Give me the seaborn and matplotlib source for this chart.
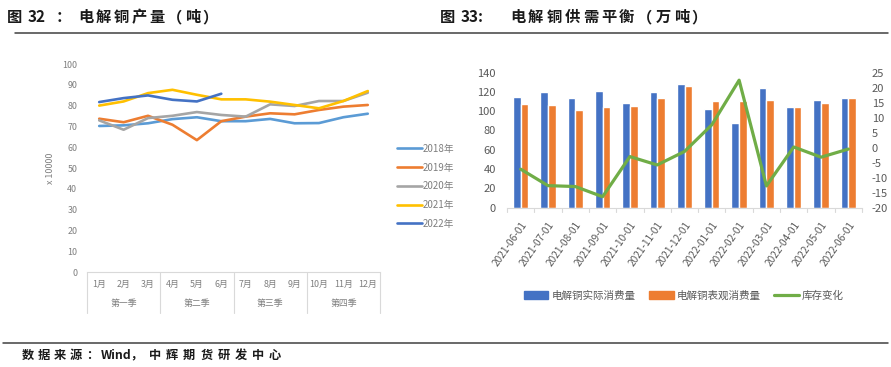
import numpy as np
import pandas as pd
import matplotlib
matplotlib.use("Agg")
import matplotlib.pyplot as plt
from matplotlib.lines import Line2D
from matplotlib.patches import Patch
import matplotlib.transforms as mtransforms
import seaborn as sns

# ---------------- data ----------------
months = ["1月", "2月", "3月", "4月", "5月", "6月", "7月", "8月", "9月", "10月", "11月", "12月"]
quarters = ["第一季", "第二季", "第三季", "第四季"]
years = ["2018年", "2019年", "2020年", "2021年", "2022年"]
prod_2018 = [70.2, 70.5, 71.5, 73.5, 74.4, 72.5, 72.5, 73.6, 71.5, 71.6, 74.4, 76.1]
prod_2019 = [73.7, 72.0, 75.1, 70.8, 63.4, 72.5, 74.7, 76.3, 75.8, 77.9, 79.5, 80.3]
prod_2020 = [72.9, 68.4, 74.0, 75.1, 76.9, 75.5, 74.7, 80.6, 79.8, 82.2, 82.2, 86.2]
prod_2021 = [80.0, 82.0, 86.0, 87.6, 85.2, 83.0, 83.0, 81.9, 80.3, 78.7, 82.2, 87.0]
prod_2022 = [81.7, 83.6, 84.9, 82.8, 82.0, 85.7]

dates = ["2021-06-01", "2021-07-01", "2021-08-01", "2021-09-01", "2021-10-01", "2021-11-01",
         "2021-12-01", "2022-01-01", "2022-02-01", "2022-03-01", "2022-04-01", "2022-05-01",
         "2022-06-01"]
actual_cons = [115.2, 119.8, 114.2, 120.5, 108.6, 119.8, 128.5, 102.0, 87.4, 124.6, 104.0, 112.0, 114.2]
apparent_cons = [107.6, 106.6, 101.3, 104.5, 105.2, 114.2, 126.7, 110.5, 110.1, 111.4, 104.0, 108.8, 113.5]
stock_change = [-7.2, -12.7, -13.0, -16.4, -3.0, -5.8, -1.3, 7.6, 22.5, -12.8, 0.2, -3.2, -0.5]
bar_names = ["电解铜实际消费量", "电解铜表观消费量"]
line_name = "库存变化"

# ---------------- style ----------------
sns.set_style("white")
plt.rcParams["font.family"] = ["Noto Sans CJK SC", "DejaVu Sans"]
plt.rcParams["axes.unicode_minus"] = False

W, H = 891, 367
fig = plt.figure(figsize=(W / 100, H / 100), dpi=100)
renderer = fig.canvas.get_renderer()


def fx(px):
    return px / W


def fy(py):
    return 1 - py / H


def fitted_text(x0, x1, y_px, s, size, **kw):
    """Draw string char by char, spread so that it spans x0..x1 pixels."""
    texts = [fig.text(fx(x0), fy(y_px), ch, fontsize=size, va="center", ha="left", **kw)
             for ch in s]
    widths = [t.get_window_extent(renderer=renderer).width for t in texts]
    gap = ((x1 - x0) - sum(widths)) / max(len(s) - 1, 1)
    x = x0
    for t, w in zip(texts, widths):
        t.set_x(fx(x))
        x += w + gap


title_kw = dict(fontweight="bold", color="#1a1a1a")
grey_txt = "#7f7f7f"
dark_txt = "#595959"

# ---------------- header / footer ----------------
fig.text(fx(7), fy(17), "图", fontsize=11, va="center", ha="left", **title_kw)
fig.text(fx(28), fy(17), "32", fontsize=11, va="center", ha="left", **title_kw)
fig.text(fx(56), fy(17), "：", fontsize=11, va="center", ha="left", **title_kw)
fitted_text(78, 218, 17, "电解铜产量（吨）", 11, **title_kw)

fig.text(fx(440), fy(17), "图", fontsize=11, va="center", ha="left", **title_kw)
fig.text(fx(461), fy(17), "33:", fontsize=11, va="center", ha="left", **title_kw)
fitted_text(510, 707, 17, "电解铜供需平衡（万吨）", 11, **title_kw)

fig.add_artist(Line2D([fx(15), fx(888)], [fy(33), fy(33)], color="#404040", lw=1.1))
fig.add_artist(Line2D([fx(3), fx(888)], [fy(343), fy(343)], color="#404040", lw=1.1))
fitted_text(22, 98, 355, "数据来源：", 8.8, **title_kw)
fig.text(fx(101), fy(355), "Wind，", fontsize=8.8, va="center", ha="left", **title_kw)
fitted_text(149, 281, 355, "中辉期货研发中心", 8.8, **title_kw)

# ---------------- left chart ----------------
axL = fig.add_axes([fx(87), fy(272), fx(380) - fx(87), fy(64) - fy(272)])
rows = []
for name, vals in zip(years, [prod_2018, prod_2019, prod_2020, prod_2021, prod_2022]):
    for i, v in enumerate(vals):
        rows.append({"x": i, "val": v, "year": name})
dfL = pd.DataFrame(rows)
palL = {"2018年": "#5B9BD5", "2019年": "#ED7D31", "2020年": "#A5A5A5",
        "2021年": "#FFC000", "2022年": "#4472C4"}
sns.lineplot(data=dfL, x="x", y="val", hue="year", palette=palL, hue_order=years,
             linewidth=1.9, ax=axL, legend=False, sort=False)
axL.set_xlim(-0.5, 11.5)
axL.set_ylim(0, 100)
axL.set_yticks(range(0, 101, 10))
axL.set_xticks(range(12))
axL.set_xticklabels(months)
axL.tick_params(axis="x", length=0, pad=6, labelsize=6.4, labelcolor=grey_txt)
axL.tick_params(axis="y", length=0, pad=7, labelsize=6.4, labelcolor=grey_txt)
axL.set_xlabel("")
axL.set_ylabel("x 10000", fontsize=6.4, color=grey_txt, labelpad=5)
for s in ["top", "right", "left"]:
    axL.spines[s].set_visible(False)
axL.spines["bottom"].set_color("#d9d9d9")
axL.spines["bottom"].set_linewidth(0.8)
trL = mtransforms.blended_transform_factory(axL.transData, axL.transAxes)
for xb in [-0.5, 2.5, 5.5, 8.5, 11.5]:
    axL.add_line(Line2D([xb, xb], [0, -41 / 208], transform=trL, color="#d9d9d9",
                        lw=0.8, clip_on=False))
for qi, q in enumerate(quarters):
    axL.text(qi * 3 + 1, -31 / 208, q, transform=trL, ha="center", va="center",
             fontsize=6.4, color=grey_txt)

handlesL = [Line2D([0], [0], color=palL[y], lw=1.9) for y in years]
fig.legend(handlesL, years, loc="upper left", bbox_to_anchor=(fx(393), fy(140)),
           frameon=False, fontsize=7, labelcolor=grey_txt, handlelength=2.6,
           handletextpad=0.1, labelspacing=0.9, borderaxespad=0)

# ---------------- right chart ----------------
axR = fig.add_axes([fx(507), fy(207.5), fx(862) - fx(507), fy(72.7) - fy(207.5)])
dfR = pd.DataFrame({
    "date": dates * 2,
    "val": actual_cons + apparent_cons,
    "kind": [bar_names[0]] * len(dates) + [bar_names[1]] * len(dates),
})
palR = {bar_names[0]: "#4472C4", bar_names[1]: "#ED7D31"}
sns.barplot(data=dfR, x="date", y="val", hue="kind", hue_order=bar_names, palette=palR,
            width=0.56, ax=axR, legend=False, saturation=1)
axR.set_xlim(-0.5, len(dates) - 0.5)
axR.set_ylim(0, 140)
axR.set_yticks(range(0, 141, 20))
axR.set_xlabel("")
axR.set_ylabel("")
axR.set_xticks(range(len(dates)))
axR.set_xticklabels(dates, rotation=55, ha="right", rotation_mode="anchor")
axR.tick_params(axis="x", length=0, pad=9, labelsize=7.3, labelcolor=dark_txt)
axR.tick_params(axis="y", length=0, pad=8, labelsize=8, labelcolor=dark_txt)
for s in ["top", "right", "left"]:
    axR.spines[s].set_visible(False)
axR.spines["bottom"].set_color("#d9d9d9")
trR = mtransforms.blended_transform_factory(axR.transData, axR.transAxes)
for xb in np.arange(-0.5, len(dates), 1.0):
    axR.add_line(Line2D([xb, xb], [0, -5 / 135], transform=trR, color="#d9d9d9",
                        lw=0.8, clip_on=False))

axR2 = axR.twinx()
dfS = pd.DataFrame({"x": np.arange(len(dates)), "val": stock_change})
sns.lineplot(data=dfS, x="x", y="val", color="#70AD47", linewidth=2.3, ax=axR2)
axR2.set_ylim(-20, 25)
axR2.set_yticks(range(-20, 26, 5))
axR2.set_ylabel("")
axR2.tick_params(axis="y", length=0, pad=7, labelsize=8, labelcolor=dark_txt)
for s in ["top", "right", "left", "bottom"]:
    axR2.spines[s].set_visible(False)

handlesR = [Patch(color="#4472C4"), Patch(color="#ED7D31"),
            Line2D([0], [0], color="#70AD47", lw=2.3)]
fig.legend(handlesR, bar_names + [line_name], loc="center", bbox_to_anchor=(fx(684), fy(296)),
           ncol=3, frameon=False, fontsize=7.6, labelcolor=dark_txt, handlelength=2.3,
           handleheight=0.8, handletextpad=0.3, columnspacing=1.3, borderaxespad=0)

fig.savefig("out.png", dpi=100)
